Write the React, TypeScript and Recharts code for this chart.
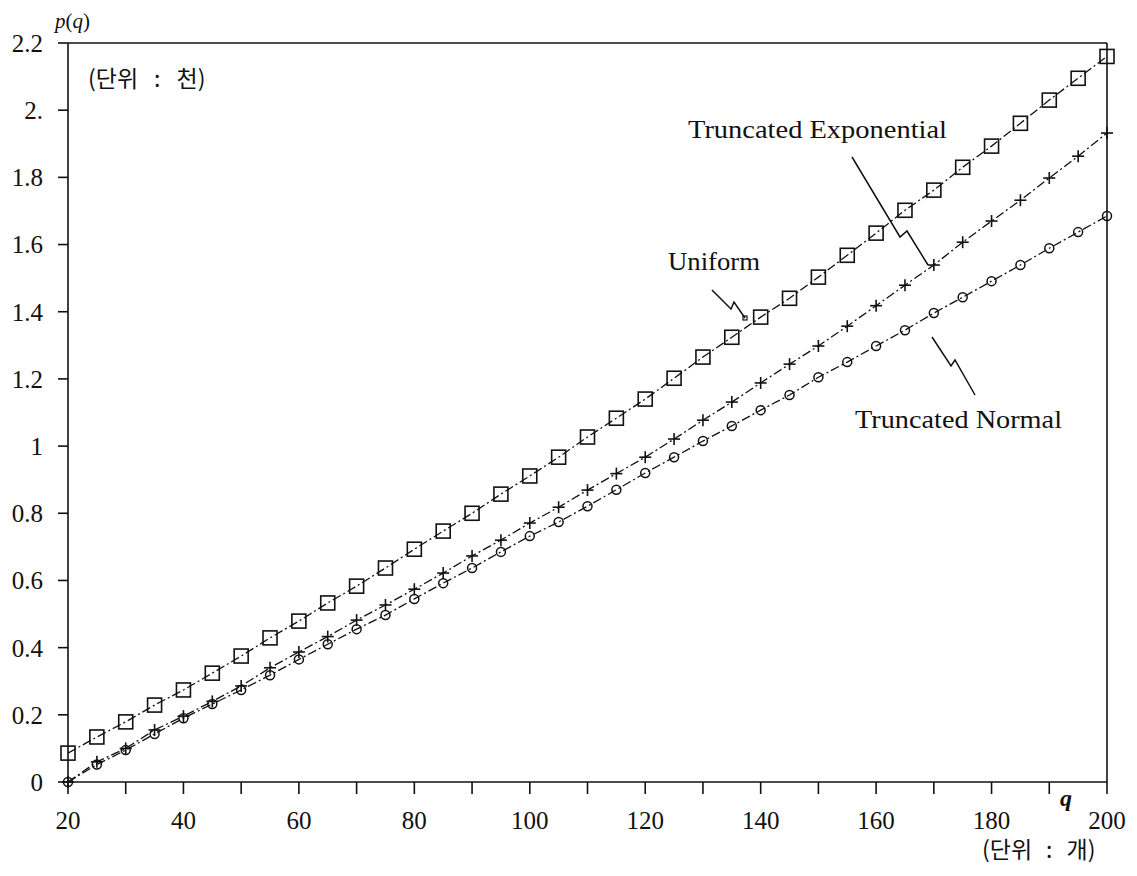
import { LineChart, Line, XAxis, YAxis, ReferenceLine } from 'recharts';

// q (단위: 개) and p(q) (단위: 천)
const qValues = [
  20, 25, 30, 35, 40, 45, 50, 55, 60, 65, 70, 75, 80, 85, 90, 95, 100, 105, 110,
  115, 120, 125, 130, 135, 140, 145, 150, 155, 160, 165, 170, 175, 180, 185, 190,
  195, 200,
];
const uniform = [
  0.086, 0.134, 0.179, 0.229, 0.274, 0.324, 0.375, 0.429, 0.479, 0.533, 0.583,
  0.637, 0.693, 0.747, 0.8, 0.857, 0.911, 0.967, 1.027, 1.083, 1.14, 1.202,
  1.265, 1.324, 1.384, 1.44, 1.503, 1.568, 1.634, 1.702, 1.762, 1.83, 1.893,
  1.961, 2.03, 2.095, 2.16,
];
const truncExponential = [
  0.0, 0.06, 0.1, 0.155, 0.196, 0.24, 0.286, 0.34, 0.387, 0.433, 0.482, 0.527,
  0.574, 0.622, 0.673, 0.72, 0.771, 0.818, 0.869, 0.918, 0.967, 1.021, 1.077,
  1.131, 1.188, 1.244, 1.298, 1.357, 1.418, 1.479, 1.539, 1.607, 1.67, 1.732,
  1.798, 1.863, 1.932,
];
const truncNormal = [
  0.0, 0.052, 0.095, 0.143, 0.19, 0.232, 0.274, 0.318, 0.365, 0.41, 0.455,
  0.497, 0.545, 0.592, 0.637, 0.685, 0.732, 0.774, 0.821, 0.87, 0.92, 0.967,
  1.015, 1.06, 1.107, 1.152, 1.205, 1.25, 1.298, 1.345, 1.396, 1.443, 1.491,
  1.539, 1.589, 1.637, 1.685,
];

const xTicks = [20, 30, 40, 50, 60, 70, 80, 90, 100, 110, 120, 130, 140, 150, 160, 170, 180, 190, 200];
const xLabelTicks = [20, 40, 60, 80, 100, 120, 140, 160, 180, 200];
const yTicks = [0, 0.2, 0.4, 0.6, 0.8, 1, 1.2, 1.4, 1.6, 1.8, 2, 2.2];
const yTickLabels = ['0', '0.2', '0.4', '0.6', '0.8', '1', '1.2', '1.4', '1.6', '1.8', '2.', '2.2'];

const data = qValues.map((q, i) => ({
  q,
  uniform: uniform[i],
  exponential: truncExponential[i],
  normal: truncNormal[i],
}));

const ink = '#111';
const serif = '"Liberation Serif", "DejaVu Serif", serif';
const kr = '"Noto Sans CJK KR", "Noto Sans CJK SC", sans-serif';
const dashDot = '9 3 2 3';

function SquareDot(props: any) {
  const { cx, cy, index } = props;
  if (cx == null || cy == null) return null;
  return (
    <rect key={`sq-${index}`} x={cx - 7} y={cy - 7} width={14} height={14}
      fill="none" stroke={ink} strokeWidth={1.6} />
  );
}

function PlusDot(props: any) {
  const { cx, cy, index } = props;
  if (cx == null || cy == null) return null;
  return (
    <g key={`pl-${index}`} stroke={ink} strokeWidth={1.6}>
      <line x1={cx - 6} y1={cy} x2={cx + 6} y2={cy} />
      <line x1={cx} y1={cy - 6} x2={cx} y2={cy + 6} />
    </g>
  );
}

function CircleDot(props: any) {
  const { cx, cy, index } = props;
  if (cx == null || cy == null) return null;
  return (
    <circle key={`ci-${index}`} cx={cx} cy={cy} r={4.5} fill="none" stroke={ink} strokeWidth={1.5} />
  );
}

const tickFont = { fontFamily: serif, fontSize: 25 };

function XTick(props: any) {
  const { x, y, payload } = props;
  const v = payload.value;
  if (!xLabelTicks.includes(v)) return null;
  return (
    <text x={x} y={y} dy="0.71em" textAnchor="middle" fill={ink} style={tickFont}>
      {String(v)}
    </text>
  );
}

function YTick(props: any) {
  const { x, y, payload } = props;
  const i = yTicks.findIndex((t) => Math.abs(t - payload.value) < 1e-6);
  return (
    <text x={x} y={y} dy="0.355em" textAnchor="end" fill={ink} style={tickFont}>
      {yTickLabels[i] ?? ''}
    </text>
  );
}

export default function App() {
  return (
    <div style={{ position: 'relative', width: 1121, height: 860 }}>
      <LineChart width={1121} height={860} data={data}
        margin={{ top: 35, right: 22, left: 0, bottom: 36 }}>
        <XAxis dataKey="q" type="number" domain={[20, 200]} ticks={xTicks} interval={0}
          height={50} tickSize={12} tickMargin={17}
          axisLine={{ stroke: ink, strokeWidth: 1.6 }}
          tickLine={{ stroke: ink, strokeWidth: 1.6 }}
          tick={<XTick />} />
        <YAxis type="number" domain={[0, 2.2]} ticks={yTicks} interval={0}
          width={60} tickSize={10} tickMargin={15}
          axisLine={{ stroke: ink, strokeWidth: 1.6 }}
          tickLine={{ stroke: ink, strokeWidth: 1.6 }}
          tick={<YTick />} />
        <ReferenceLine y={2.2} stroke={ink} strokeWidth={1.6} />
        <ReferenceLine x={200} stroke={ink} strokeWidth={1.6} />
        <Line dataKey="uniform" type="linear" stroke={ink} strokeWidth={1.3}
          strokeDasharray={dashDot} dot={SquareDot} activeDot={false} isAnimationActive={false} />
        <Line dataKey="exponential" type="linear" stroke={ink} strokeWidth={1.3}
          strokeDasharray={dashDot} dot={PlusDot} activeDot={false} isAnimationActive={false} />
        <Line dataKey="normal" type="linear" stroke={ink} strokeWidth={1.3}
          strokeDasharray={dashDot} dot={CircleDot} activeDot={false} isAnimationActive={false} />
      </LineChart>

      {/* axis titles, units and curve labels */}
      <svg width={1121} height={860}
        style={{ position: 'absolute', left: 0, top: 0, pointerEvents: 'none' }}>
        <text x={47} y={20} fontFamily={serif} fontSize={21} fill={ink}>
          <tspan fontStyle="italic">p</tspan>(<tspan fontStyle="italic">q</tspan>)
        </text>
        <text x={80} y={79} fontFamily={kr} fontSize={23} fill={ink}>
          (단위<tspan dx={16}>:</tspan><tspan dx={16}>천)</tspan>
        </text>
        <text x={1052} y={798} fontFamily={serif} fontSize={24} fontStyle="italic"
          fontWeight="bold" fill={ink}>q</text>
        <text x={974} y={850} fontFamily={kr} fontSize={23} fill={ink}>
          (단위<tspan dx={14}>:</tspan><tspan dx={14}>개)</tspan>
        </text>

        <text x={660} y={262} fontFamily={serif} fontSize={26} fill={ink}
          textLength={92} lengthAdjust="spacingAndGlyphs">Uniform</text>
        <polyline points="704,282 723,301 726,294 737,310" fill="none" stroke={ink} strokeWidth={1.5} />
        <rect x={735} y={308} width={4} height={4} fill="none" stroke={ink} strokeWidth={1.2} />

        <text x={680} y={130} fontFamily={serif} fontSize={26} fill={ink}
          textLength={259} lengthAdjust="spacingAndGlyphs">Truncated Exponential</text>
        <polyline points="844,149 892,229 899,223 920,257" fill="none" stroke={ink} strokeWidth={1.5} />

        <text x={847} y={420} fontFamily={serif} fontSize={26} fill={ink}
          textLength={207} lengthAdjust="spacingAndGlyphs">Truncated Normal</text>
        <polyline points="924,329 943,358 947,352 967,387" fill="none" stroke={ink} strokeWidth={1.5} />
      </svg>
    </div>
  );
}
